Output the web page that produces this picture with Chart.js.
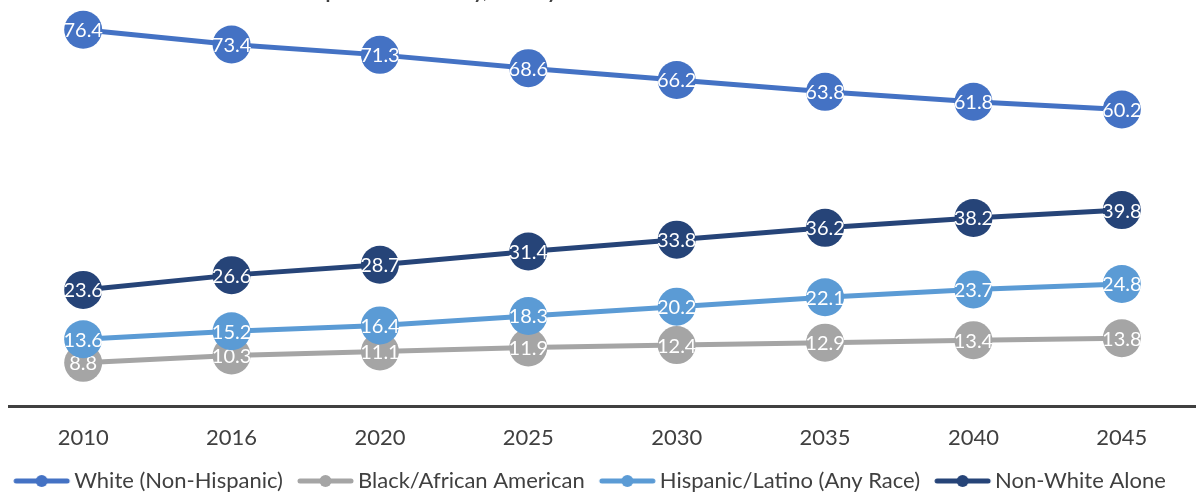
<!DOCTYPE html>
<html>
<head>
<meta charset="utf-8">
<script src="https://cdn.jsdelivr.net/npm/chart.js@4/dist/chart.umd.min.js"></script>
<style>
    html, body { margin: 0; padding: 0; background: #ffffff; }
    #wrap { width: 1196px; height: 493px; position: relative; }
</style>
</head>
<body>
<div id="wrap"><canvas id="diversityChart"></canvas></div>
<script>
// Chart data
const years = ['2010', '2016', '2020', '2025', '2030', '2035', '2040', '2045'];
const whiteNonHispanic = [76.4, 73.4, 71.3, 68.6, 66.2, 63.8, 61.8, 60.2];
const blackAfricanAmerican = [8.8, 10.3, 11.1, 11.9, 12.4, 12.9, 13.4, 13.8];
const hispanicLatino = [13.6, 15.2, 16.4, 18.3, 20.2, 22.1, 23.7, 24.8];
const nonWhiteAlone = [23.6, 26.6, 28.7, 31.4, 33.8, 36.2, 38.2, 39.8];
const seriesNames = ['White (Non-Hispanic)', 'Black/African American', 'Hispanic/Latino (Any Race)', 'Non-White Alone'];
const chartTitle = 'Population Diversity, County';

const seriesColors = ['#4472C4', '#A5A5A5', '#5B9BD5', '#264478'];
const textColor = '#404040';

// Legend symbol: short line with a dot, shifted right inside its canvas
// so it sits close to its own label text
function makeLegendSymbol(color) {
    const c = document.createElement('canvas');
    c.width = 80;
    c.height = 14;
    const g = c.getContext('2d');
    g.strokeStyle = color;
    g.lineWidth = 5;
    g.lineCap = 'round';
    g.beginPath();
    g.moveTo(25, 7);
    g.lineTo(76, 7);
    g.stroke();
    g.fillStyle = color;
    g.beginPath();
    g.arc(50.5, 7, 6, 0, Math.PI * 2);
    g.fill();
    return c;
}
const legendSymbols = seriesColors.map(makeLegendSymbol);

// Title sits mostly above the visible area, like the cropped original
const titlePlugin = {
    id: 'croppedTitle',
    beforeDraw(chart) {
        const ctx = chart.ctx;
        ctx.save();
        ctx.font = 'bold 20px Lato, sans-serif';
        ctx.fillStyle = textColor;
        ctx.textAlign = 'left';
        ctx.textBaseline = 'alphabetic';
        ctx.fillText(chartTitle, 302, -2);
        ctx.restore();
    }
};

// Nudge the legend row a little to the left
const legendShiftPlugin = {
    id: 'legendShift',
    afterLayout(chart) {
        chart.legend.left -= 20;
        chart.legend.right -= 20;
    }
};

// White value labels centred on each marker, drawn per dataset
const pointLabelsPlugin = {
    id: 'pointLabels',
    afterDatasetDraw(chart, args) {
        const ctx = chart.ctx;
        const meta = args.meta;
        const values = chart.data.datasets[meta.index].data;
        ctx.save();
        ctx.font = '20px Lato, sans-serif';
        ctx.fillStyle = '#ffffff';
        ctx.textAlign = 'center';
        ctx.textBaseline = 'middle';
        meta.data.forEach((point, i) => {
            ctx.fillText(values[i].toFixed(1), point.x, point.y + 1);
        });
        ctx.restore();
    }
};

const allSeries = [whiteNonHispanic, blackAfricanAmerican, hispanicLatino, nonWhiteAlone];

const ctx = document.getElementById('diversityChart').getContext('2d');

new Chart(ctx, {
    type: 'line',
    data: {
        labels: years,
        datasets: allSeries.map((values, i) => ({
            label: seriesNames[i],
            data: values,
            borderColor: seriesColors[i],
            backgroundColor: seriesColors[i],
            pointBackgroundColor: seriesColors[i],
            pointBorderColor: seriesColors[i],
            borderWidth: 5,
            pointRadius: 19,
            pointHoverRadius: 19,
            pointBorderWidth: 0,
            tension: 0,
            fill: false,
            clip: false,
            order: 4 - i
        }))
    },
    options: {
        responsive: true,
        maintainAspectRatio: false,
        animation: false,
        layout: {
            autoPadding: false,
            padding: { left: 9, right: 0, top: 12, bottom: -9 }
        },
        scales: {
            x: {
                offset: true,
                grid: { display: false, drawTicks: false },
                border: { display: true, color: '#404040', width: 3 },
                ticks: {
                    color: textColor,
                    font: { family: 'Lato, sans-serif', size: 22, lineHeight: 0.9 },
                    padding: 22
                }
            },
            y: {
                display: false,
                min: 0,
                max: 80
            }
        },
        plugins: {
            legend: {
                position: 'bottom',
                labels: {
                    usePointStyle: true,
                    pointStyleWidth: 64,
                    padding: 0,
                    color: textColor,
                    font: { family: 'Lato, sans-serif', size: 22 },
                    sort: (a, b) => a.datasetIndex - b.datasetIndex,
                    generateLabels: function(chart) {
                        const items = Chart.defaults.plugins.legend.labels.generateLabels(chart);
                        items.forEach(item => {
                            item.pointStyle = legendSymbols[item.datasetIndex];
                        });
                        return items;
                    }
                }
            },
            tooltip: { enabled: false }
        }
    },
    plugins: [titlePlugin, legendShiftPlugin, pointLabelsPlugin]
});
</script>
</body>
</html>
